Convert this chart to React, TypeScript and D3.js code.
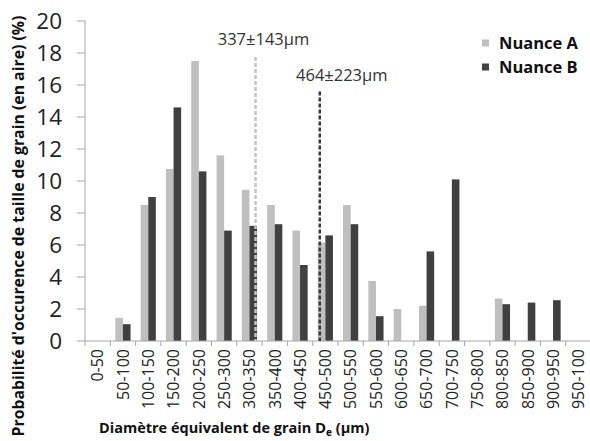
import React from "react";
import * as d3 from "d3";

const categories = ["0-50","50-100","100-150","150-200","200-250","250-300","300-350","350-400","400-450","450-500","500-550","550-600","600-650","650-700","700-750","750-800","800-850","850-900","900-950","950-100"];
const nuanceA = [0,1.45,8.5,10.75,17.5,11.6,9.45,8.5,6.9,6.15,8.5,3.75,2.0,2.2,0,0,2.65,0,0,0];
const nuanceB = [0,1.05,9.0,14.6,10.6,6.9,7.2,7.3,4.75,6.6,7.3,1.55,0,5.6,10.1,0,2.3,2.4,2.55,0];
const seriesNames = ["Nuance A","Nuance B"];
const yTicks = [0,2,4,6,8,10,12,14,16,18,20];
const meanValues = [337,464];
const meanLabels = ["337±143µm","464±223µm"];
const meanLineTops = [17.75,15.6];

const W = 590, H = 441;
const FONT = "'Open Sans', sans-serif";
const colors = ["#bfbfbf","#404040"];
const lineColors = ["#c4c4c4","#3a3a3a"];

export default function App() {
  const x = d3.scaleBand<string>().domain(categories).range([85, 591]).padding(0);
  const bw = x.bandwidth();
  const x1 = d3.scaleBand<string>().domain(seriesNames).range([bw*0.2, bw*0.8]).padding(0);
  const y = d3.scaleLinear().domain([0,20]).range([341,21]);
  const xv = d3.scaleLinear().domain([0,1000]).range([85,591]);
  const series = [nuanceA, nuanceB];
  const labelDx = [8, 22];
  const labelDy = [-12, -10];

  return (
    <svg width={W} height={H} style={{position:"absolute", left:0, top:0, background:"#fff"}} fontFamily={FONT}>
      <line x1={85} x2={85} y1={y(20)} y2={y(0)} stroke="#a6a6a6" strokeWidth={1} />
      {yTicks.map(t => (
        <g key={t}>
          <line x1={77} x2={85} y1={y(t)} y2={y(t)} stroke="#a6a6a6" strokeWidth={1} />
          <text x={62} y={y(t)} dy="0.36em" textAnchor="end" fontSize={22.5} fill="#222">{t}</text>
        </g>
      ))}
      {series.map((vals, si) => vals.map((v, i) => (
        <rect key={si+"-"+i} x={(x(categories[i]) as number) + (x1(seriesNames[si]) as number)} width={x1.bandwidth()}
          y={y(v)} height={y(0)-y(v)} fill={colors[si]} />
      )))}
      <line x1={85} x2={591} y1={y(0)} y2={y(0)} stroke="#a6a6a6" strokeWidth={1} />
      {categories.map((c, i) => (
        <line key={"t"+i} x1={(x(c) as number)} x2={(x(c) as number)} y1={y(0)} y2={y(0)+5} stroke="#a6a6a6" />
      ))}
      {categories.map((c, i) => {
        const cx = (x(c) as number) + bw/2;
        return (
          <text key={"l"+i} transform={`translate(${cx},${349}) rotate(-90)`} textAnchor="end" dy="0.36em" fontSize={16} fill="#222">{c}</text>
        );
      })}
      {meanValues.map((m, i) => (
        <g key={"m"+i}>
          <line x1={xv(m)} x2={xv(m)} y1={y(meanLineTops[i])} y2={y(0)} stroke={lineColors[i]} strokeWidth={2.5} strokeDasharray="4,2" />
          <text x={xv(m)+labelDx[i]} y={y(meanLineTops[i])+labelDy[i]} textAnchor="middle" fontSize={16.5} fill="#333">{meanLabels[i]}</text>
        </g>
      ))}
      {seriesNames.map((s, i) => (
        <g key={"lg"+i} transform={`translate(482,${43 + i*24})`}>
          <rect x={0} y={-3.5} width={7} height={7} fill={colors[i]} />
          <text x={17} y={0} dy="0.36em" fontSize={16.5} fontWeight="bold" fill="#111">{s}</text>
        </g>
      ))}
      <text transform={`translate(24,226) rotate(-90)`} textAnchor="middle" fontSize={15.8} fontWeight="bold" fill="#111">Probabilité d'occurence de taille de grain (en aire) (%)</text>
      <text x={99} y={433} fontSize={14.5} fontWeight="bold" fill="#111">
        Diamètre équivalent de grain <tspan fontSize={15}>D</tspan><tspan fontSize={10} dy={3}>e</tspan><tspan dy={-3}> (µm)</tspan>
      </text>
    </svg>
  );
}
